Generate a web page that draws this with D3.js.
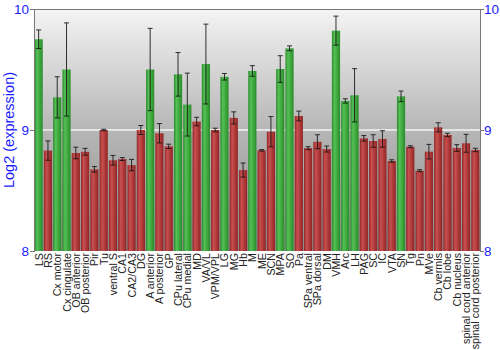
<!DOCTYPE html>
<html>
<head>
<meta charset="utf-8">
<script src="https://cdn.jsdelivr.net/npm/d3@7"></script>
<style>
  html, body { margin: 0; padding: 0; background: #fff; }
  svg { display: block; font-family: "Liberation Sans", Arial, sans-serif; }
</style>
</head>
<body>
<svg id="chart" width="500" height="350"></svg>
<script>
// Brain regions
const regions = [
  "LS", "RS", "Cx motor", "Cx cingulate", "OB anterior", "OB posterior", "Pir", "Tu",
  "ventral S", "CA1", "CA2/CA3", "DG", "A anterior", "A posterior", "GP", "CPu lateral",
  "CPu medial", "MD", "VA/VL", "VPM/VPL", "LG", "MG", "Hb", "M", "ME", "SCN", "MPA", "SO",
  "Pa", "SPa ventral", "SPa dorsal", "DM", "VMH", "Arc", "LH", "PAG", "SC", "IC", "VTA", "SN",
  "Tg", "Pn", "MVe", "Cb vermis", "Cb lobe", "Cb nucleus", "spinal cord anterior", "spinal cord posterior"
];

// Mean log2 expression per region
const expression = [
  9.75, 8.83, 9.27, 9.50, 8.81, 8.82, 8.675, 9.00,
  8.75, 8.76, 8.71, 9.00, 9.50, 8.973, 8.865, 9.46,
  9.21, 9.07, 9.545, 9.00, 9.44, 9.10, 8.669, 9.488, 8.832, 8.986, 9.504, 9.675,
  9.116, 8.85, 8.903, 8.843, 9.821, 9.24, 9.287, 8.931, 8.909, 8.926, 8.744, 9.278,
  8.862, 8.664, 8.821, 9.022, 8.959, 8.851, 8.89, 8.835
];

// Error half-widths
const errors = [
  0.077, 0.08, 0.17, 0.385, 0.048, 0.028, 0.023, 0.006,
  0.04, 0.012, 0.047, 0.037, 0.34, 0.08, 0.018, 0.18,
  0.26, 0.035, 0.33, 0.015, 0.027, 0.05, 0.058, 0.044, 0.006, 0.125, 0.11, 0.02,
  0.04, 0.012, 0.058, 0.025, 0.12, 0.018, 0.22, 0.023, 0.052, 0.068, 0.01, 0.044,
  0.008, 0.008, 0.06, 0.038, 0.014, 0.028, 0.074, 0.014
];

// Regions at or above this level are drawn as "high"
const highThreshold = 9.2;

const yTicks = [8, 9, 10];

const svg = d3.select("#chart");
const margin = { top: 9, right: 20, bottom: 99, left: 34 };
const W = 500, H = 350;
const iw = W - margin.left - margin.right;
const ih = H - margin.top - margin.bottom;

const x = d3.scaleBand().domain(regions).range([0, iw]).paddingInner(0.12).paddingOuter(0.06);
const y = d3.scaleLinear().domain([8, 10]).range([ih, 0]);

const defs = svg.append("defs");
const bg = defs.append("linearGradient").attr("id", "bg").attr("x1", 0).attr("y1", 0).attr("x2", 0).attr("y2", 1);
bg.append("stop").attr("offset", "0%").attr("stop-color", "#f4f4f4");
bg.append("stop").attr("offset", "50%").attr("stop-color", "#b6b6b6");
bg.append("stop").attr("offset", "100%").attr("stop-color", "#8c8c8c");

function barGradient(id, dark, light, mid) {
  const g = defs.append("linearGradient").attr("id", id).attr("x1", 0).attr("y1", 0).attr("x2", 1).attr("y2", 0);
  g.append("stop").attr("offset", "0%").attr("stop-color", dark);
  g.append("stop").attr("offset", "30%").attr("stop-color", light);
  g.append("stop").attr("offset", "65%").attr("stop-color", mid);
  g.append("stop").attr("offset", "100%").attr("stop-color", dark);
}
barGradient("gGreen", "#2a8a2a", "#55c055", "#3ea83e");
barGradient("gRed", "#8e2424", "#c85050", "#b03a3a");

const g = svg.append("g").attr("transform", `translate(${margin.left},${margin.top})`);

g.append("rect").attr("width", iw).attr("height", ih).attr("fill", "url(#bg)");

// Gridline at 9
g.append("line")
  .attr("x1", 0).attr("x2", iw)
  .attr("y1", y(9)).attr("y2", y(9))
  .attr("stroke", "#fff").attr("stroke-width", 1.5).attr("opacity", 0.85);

const data = regions.map((r, i) => ({ r, v: expression[i], e: errors[i] }));

g.selectAll("rect.bar").data(data).join("rect")
  .attr("class", "bar")
  .attr("x", d => x(d.r))
  .attr("width", x.bandwidth())
  .attr("y", d => y(d.v))
  .attr("height", d => ih - y(d.v))
  .attr("fill", d => d.v >= highThreshold ? "url(#gGreen)" : "url(#gRed)");

// Error bars
const eb = g.selectAll("g.err").data(data).join("g").attr("class", "err")
  .attr("stroke", "#111").attr("stroke-width", 1).attr("opacity", 0.85);
const cx = d => x(d.r) + x.bandwidth() / 2;
eb.append("line").attr("x1", cx).attr("x2", cx)
  .attr("y1", d => y(d.v + d.e)).attr("y2", d => y(d.v - d.e));
eb.append("line").attr("x1", d => cx(d) - 2.5).attr("x2", d => cx(d) + 2.5)
  .attr("y1", d => y(d.v + d.e)).attr("y2", d => y(d.v + d.e));
eb.append("line").attr("x1", d => cx(d) - 2.5).attr("x2", d => cx(d) + 2.5)
  .attr("y1", d => y(d.v - d.e)).attr("y2", d => y(d.v - d.e));

// Frame
g.append("line").attr("x1", 0).attr("x2", iw).attr("y1", 0.5).attr("y2", 0.5)
  .attr("stroke", "#777").attr("stroke-width", 1);

// Axes
const yl = g.append("g").call(d3.axisLeft(y).tickValues(yTicks).tickSize(4).tickFormat(d3.format("d")));
const yr = g.append("g").attr("transform", `translate(${iw},0)`)
  .call(d3.axisRight(y).tickValues(yTicks).tickSize(4).tickFormat(d3.format("d")));
[yl, yr].forEach(a => {
  a.select(".domain").attr("stroke", "#777");
  a.selectAll(".tick line").attr("stroke", "#777");
  a.selectAll(".tick text").attr("fill", "#1a1aff").attr("font-size", 13.5)
    .attr("font-family", "\"Liberation Sans\", Arial, sans-serif");
});
yl.selectAll(".tick text").attr("x", -5);
yr.selectAll(".tick text").attr("x", 4);

// Category labels
g.append("g").selectAll("text").data(regions).join("text")
  .attr("transform", d => `translate(${x(d) + x.bandwidth() / 2 + 4},${ih + 2}) rotate(-90)`)
  .attr("text-anchor", "end")
  .attr("font-size", 10.7)
  .attr("fill", "#222")
  .text(d => d);

// Y-axis title
svg.append("text")
  .attr("transform", `translate(14,${margin.top + ih / 2}) rotate(-90)`)
  .attr("text-anchor", "middle")
  .attr("font-size", 14.5)
  .attr("fill", "#1a1aff")
  .text("Log2 (expression)");
</script>
</body>
</html>
